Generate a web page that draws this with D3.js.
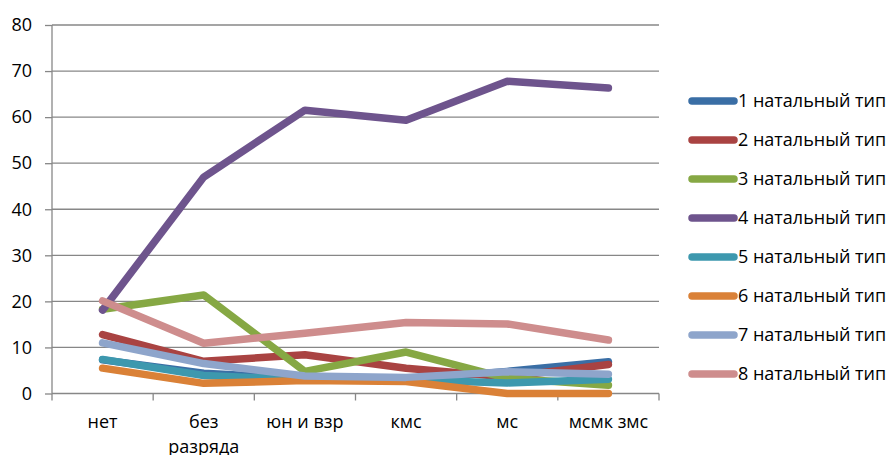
<!DOCTYPE html>
<html><head><meta charset="utf-8">
<script src="https://cdn.jsdelivr.net/npm/d3@7"></script>
<style>body{margin:0;background:#fff}svg{display:block}text{font-family:"Open Sans","Noto Sans",sans-serif;fill:#000}</style>
</head><body><svg id="c" width="888" height="455"></svg>
<script>
const categories = ["нет", "без разряда", "юн и взр", "кмс", "мс", "мсмк змс"];
const seriesNames = ["1 натальный тип","2 натальный тип","3 натальный тип","4 натальный тип","5 натальный тип","6 натальный тип","7 натальный тип","8 натальный тип"];
const s1 = [7.3, 4.4, 3.2, 3.0, 4.8, 6.9];
const s2 = [12.8, 7.0, 8.4, 5.5, 3.6, 6.3];
const s3 = [18.3, 21.4, 4.8, 9.0, 3.3, 1.8];
const s4 = [18.1, 47.0, 61.5, 59.3, 67.8, 66.3];
const s5 = [7.4, 3.9, 3.0, 3.0, 2.3, 3.1];
const s6 = [5.5, 2.2, 2.8, 2.6, 0.0, 0.0];
const s7 = [11.0, 6.5, 3.8, 3.5, 4.7, 4.2];
const s8 = [20.1, 10.9, 13.1, 15.4, 15.1, 11.6];
const seriesValues = [s1, s2, s3, s4, s5, s6, s7, s8];
const colors = ["#3A6EA5","#A94342","#86A844","#6E548D","#3D98AE","#DA8137","#8EA5CB","#CE8D8D"];
const yTicks = [0,10,20,30,40,50,60,70,80];

const svg = d3.select("#c");
const x = d3.scaleBand().domain(categories).range([52, 659]);
const y = d3.scaleLinear().domain([0, 80]).range([393.5, 25]);
const grid = "#878787";
const fs = 18;

// gridlines
svg.append("g").selectAll("line").data(yTicks.slice(1)).join("line")
  .attr("x1", 52).attr("x2", 659).attr("y1", d => y(d)).attr("y2", d => y(d))
  .attr("stroke", grid).attr("stroke-width", 1.3);

// y axis
const ya = svg.append("g").attr("transform", "translate(52,0)")
  .call(d3.axisLeft(y).tickValues(yTicks).tickSize(7).tickPadding(13));
ya.select(".domain").attr("stroke", grid).attr("stroke-width", 1.3).attr("d", `M0,${y(80)}V${y(0)}`);
ya.selectAll(".tick line").attr("stroke", grid).attr("stroke-width", 1.3);
ya.selectAll(".tick text").attr("font-size", fs).attr("font-family", "Open Sans").attr("fill", "#000");

// x axis
svg.append("line").attr("x1", 52).attr("x2", 659).attr("y1", y(0)).attr("y2", y(0)).attr("stroke", grid).attr("stroke-width", 1.3);
const bounds = categories.map(c => x(c)).concat([659]);
svg.append("g").selectAll("line").data(bounds).join("line")
  .attr("x1", d => d).attr("x2", d => d).attr("y1", y(0)).attr("y2", y(0) + 7)
  .attr("stroke", grid).attr("stroke-width", 1.3);
const xl = svg.append("g").selectAll("text").data(categories).join("text")
  .attr("x", d => x(d) + x.bandwidth() / 2).attr("y", 428)
  .attr("text-anchor", "middle").attr("font-size", fs);
xl.each(function(d) {
  const t = d3.select(this);
  const parts = d === "без разряда" ? ["без", "разряда"] : [d];
  parts.forEach((p, i) => t.append("tspan").attr("x", x(d) + x.bandwidth() / 2).attr("dy", i ? 25 : 0).text(p));
});

// lines
const line = d3.line().x((d, i) => x(categories[i]) + x.bandwidth() / 2).y(d => y(d));
svg.append("g").selectAll("path").data(seriesValues).join("path")
  .attr("d", line).attr("fill", "none")
  .attr("stroke", (d, i) => colors[i]).attr("stroke-width", 7.5)
  .attr("stroke-linecap", "round").attr("stroke-linejoin", "round");

// legend
const lg = svg.append("g").selectAll("g").data(seriesNames).join("g")
  .attr("transform", (d, i) => `translate(0,${101 + i * 39})`);
lg.append("line").attr("x1", 692).attr("x2", 734).attr("y1", 0).attr("y2", 0)
  .attr("stroke", (d, i) => colors[i]).attr("stroke-width", 7.5).attr("stroke-linecap", "round");
lg.append("text").attr("x", 738).attr("y", 0).attr("dy", "0.35em").attr("font-size", fs).text(d => d);
</script></body></html>
